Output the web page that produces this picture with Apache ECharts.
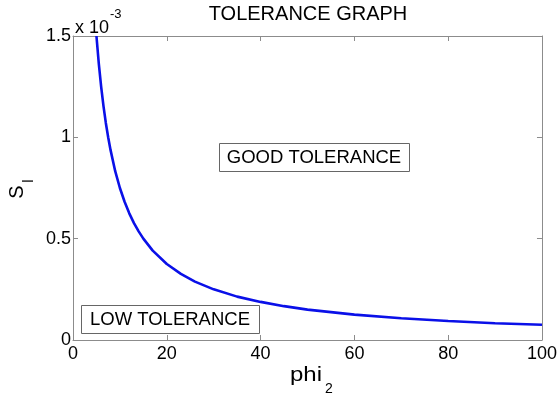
<!DOCTYPE html>
<html>
<head>
<meta charset="utf-8">
<script src="https://cdn.jsdelivr.net/npm/echarts@6/dist/echarts.min.js"></script>
<style>
  html, body { margin: 0; padding: 0; background: #fff; }
  #chart { width: 560px; height: 394px; }
</style>
</head>
<body>
<div id="chart"></div>
<script>
// phi_2 sample points and the matching S_l values (in units of 10^-3)
const phi2 = [5, 5.5, 6, 6.5, 7, 7.5, 8, 9, 10, 11, 12, 13, 14, 15, 17, 20, 23, 26, 30, 35, 40, 45, 50, 60, 70, 80, 90, 100];
const sl   = [1.500, 1.364, 1.250, 1.154, 1.071, 1.000, 0.938, 0.833, 0.750, 0.682, 0.625, 0.577, 0.536, 0.500, 0.441, 0.375, 0.326, 0.288, 0.250, 0.214, 0.188, 0.167, 0.150, 0.125, 0.107, 0.094, 0.083, 0.075];
const xTicks = [0, 20, 40, 60, 80, 100];
const yTicks = [0, 0.5, 1, 1.5];

const FONT = 'Liberation Sans, Arial, Helvetica, sans-serif';
const AXIS_GRAY = '#8c8c8c';

const chart = echarts.init(document.getElementById('chart'), null, { renderer: 'canvas' });

const points = phi2.map((p, i) => [p, sl[i]]);

const baseAxisLine = { show: true, onZero: false, lineStyle: { color: AXIS_GRAY, width: 1 } };
const baseTick = { show: true, inside: true, length: 5, lineStyle: { color: AXIS_GRAY } };

chart.setOption({
  animation: false,
  backgroundColor: '#ffffff',
  grid: { left: 73, right: 16, top: 36, bottom: 54, containLabel: false },
  xAxis: [
    {
      type: 'value', min: xTicks[0], max: xTicks[xTicks.length - 1], interval: 20,
      position: 'bottom',
      axisLine: baseAxisLine, axisTick: baseTick, splitLine: { show: false },
      axisLabel: { color: '#000', fontFamily: FONT, fontSize: 18, margin: 5 }
    },
    {
      type: 'value', min: xTicks[0], max: xTicks[xTicks.length - 1], interval: 20,
      position: 'top',
      axisLine: baseAxisLine, axisTick: baseTick, splitLine: { show: false },
      axisLabel: { show: false }
    }
  ],
  yAxis: [
    {
      type: 'value', min: yTicks[0], max: yTicks[yTicks.length - 1], interval: 0.5,
      position: 'left',
      axisLine: baseAxisLine, axisTick: baseTick, splitLine: { show: false },
      axisLabel: { color: '#000', fontFamily: FONT, fontSize: 18, margin: 2 }
    },
    {
      type: 'value', min: yTicks[0], max: yTicks[yTicks.length - 1], interval: 0.5,
      position: 'right',
      axisLine: baseAxisLine, axisTick: baseTick, splitLine: { show: false },
      axisLabel: { show: false }
    }
  ],
  series: [
    {
      type: 'line',
      data: points,
      xAxisIndex: 0, yAxisIndex: 0,
      showSymbol: false,
      smooth: false,
      clip: true,
      lineStyle: { color: '#0a10e8', width: 2.6 }
    }
  ],
  graphic: [
    // title
    { type: 'text', x: 308, y: 4, style: { text: 'TOLERANCE GRAPH', fill: '#000', font: '20px ' + FONT, textAlign: 'center' } },
    // axis exponent
    { type: 'text', x: 75, y: 19, style: { text: 'x 10', fill: '#000', font: '18px ' + FONT } },
    { type: 'text', x: 110, y: 8, style: { text: '-3', fill: '#000', font: '13px ' + FONT } },
    // y axis title S_l
    { type: 'text', x: 17, y: 192, rotation: Math.PI / 2, style: { text: 'S', fill: '#000', font: '20px ' + FONT, textAlign: 'center', textVerticalAlign: 'middle' } },
    { type: 'text', x: 29, y: 181, rotation: Math.PI / 2, style: { text: 'l', fill: '#000', font: '15px ' + FONT, textAlign: 'center', textVerticalAlign: 'middle' } },
    // x axis title phi_2
    { type: 'text', x: 290, y: 365, scaleX: 1.2, style: { text: 'phi', fill: '#000', font: '20px ' + FONT } },
    { type: 'text', x: 325, y: 382, style: { text: '2', fill: '#000', font: '14px ' + FONT } },
    // annotation boxes
    { type: 'rect', shape: { x: 219.5, y: 143.5, width: 190, height: 28 }, style: { fill: '#fff', stroke: '#666', lineWidth: 1 }, z: 10 },
    { type: 'text', x: 314, y: 157.5, z: 11, style: { text: 'GOOD TOLERANCE', fill: '#000', font: '18.5px ' + FONT, textAlign: 'center', textVerticalAlign: 'middle' } },
    { type: 'rect', shape: { x: 81.5, y: 305.5, width: 178, height: 28 }, style: { fill: '#fff', stroke: '#666', lineWidth: 1 }, z: 10 },
    { type: 'text', x: 170, y: 320, z: 11, style: { text: 'LOW TOLERANCE', fill: '#000', font: '18.5px ' + FONT, textAlign: 'center', textVerticalAlign: 'middle' } }
  ]
});
</script>
</body>
</html>
